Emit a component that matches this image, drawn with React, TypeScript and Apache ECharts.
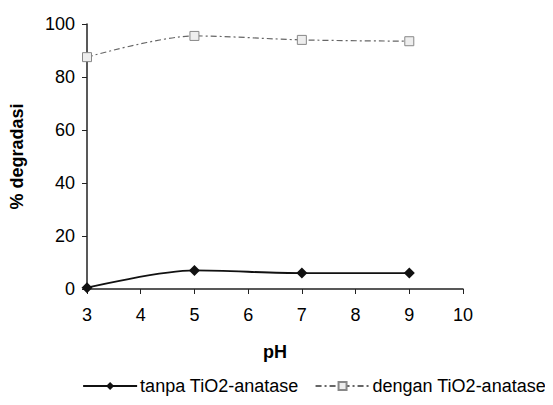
import React, { useEffect, useRef } from "react";
import * as echarts from "echarts";

const phValues = [3, 5, 7, 9];
const tanpa = [0.5, 7, 6, 6];
const dengan = [87.5, 95.5, 94, 93.5];
const seriesNames = ["tanpa TiO2-anatase", "dengan TiO2-anatase"];

export default function App() {
  const ref = useRef<HTMLDivElement>(null);
  useEffect(() => {
    const chart = echarts.init(ref.current!, null, { renderer: "svg" });
    const font = "'Liberation Sans', Arial, sans-serif";
    chart.setOption({
      animation: false,
      backgroundColor: "#fff",
      grid: { left: 87, right: 90, top: 24, bottom: 116, containLabel: false, outerBoundsMode: "none" },
      xAxis: {
        type: "value",
        min: 3,
        max: 10,
        interval: 1,
        name: "pH",
        nameLocation: "middle",
        nameGap: 54,
        nameTextStyle: { fontFamily: font, fontWeight: "bold", fontSize: 18, color: "#000" },
        axisLine: { lineStyle: { color: "#222", width: 1.5 } },
        axisTick: { show: true, inside: false, length: 5, lineStyle: { color: "#222" } },
        axisLabel: { fontFamily: font, fontSize: 18, color: "#000", margin: 17 },
        splitLine: { show: false },
      },
      yAxis: {
        type: "value",
        min: 0,
        max: 100,
        interval: 20,
        name: "% degradasi",
        nameLocation: "middle",
        nameGap: 61,
        nameRotate: 90,
        nameTextStyle: { fontFamily: font, fontWeight: "bold", fontSize: 18, color: "#000" },
        axisLine: { show: true, lineStyle: { color: "#222", width: 1.5 } },
        axisTick: { show: true, inside: false, length: 5, lineStyle: { color: "#222" } },
        axisLabel: { fontFamily: font, fontSize: 18, color: "#000", margin: 12 },
        splitLine: { show: false },
      },
      legend: {
        top: 372,
        right: 2,
        itemWidth: 54,
        itemHeight: 10,
        itemGap: 16,
        textStyle: { fontFamily: font, fontSize: 18, color: "#000", padding: [0, 0, 0, -2] },
        data: seriesNames,
      },
      series: [
        {
          name: seriesNames[0],
          type: "line",
          data: phValues.map((x, i) => [x, tanpa[i]]),
          smooth: 0.3,
          symbol: "diamond",
          symbolSize: 11,
          itemStyle: { color: "#111" },
          lineStyle: { color: "#111", width: 1.8 },
        },
        {
          name: seriesNames[1],
          type: "line",
          data: phValues.map((x, i) => [x, dengan[i]]),
          smooth: 0.3,
          symbol: "rect",
          symbolSize: 9,
          itemStyle: { color: "#eee", borderColor: "#888", borderWidth: 1 },
          lineStyle: { color: "#666", width: 1.2, type: [6, 3, 2, 3] },
        },
      ],
    });
    return () => chart.dispose();
  }, []);
  return <div ref={ref} style={{ width: 553, height: 405, margin: -8 }} />;
}
